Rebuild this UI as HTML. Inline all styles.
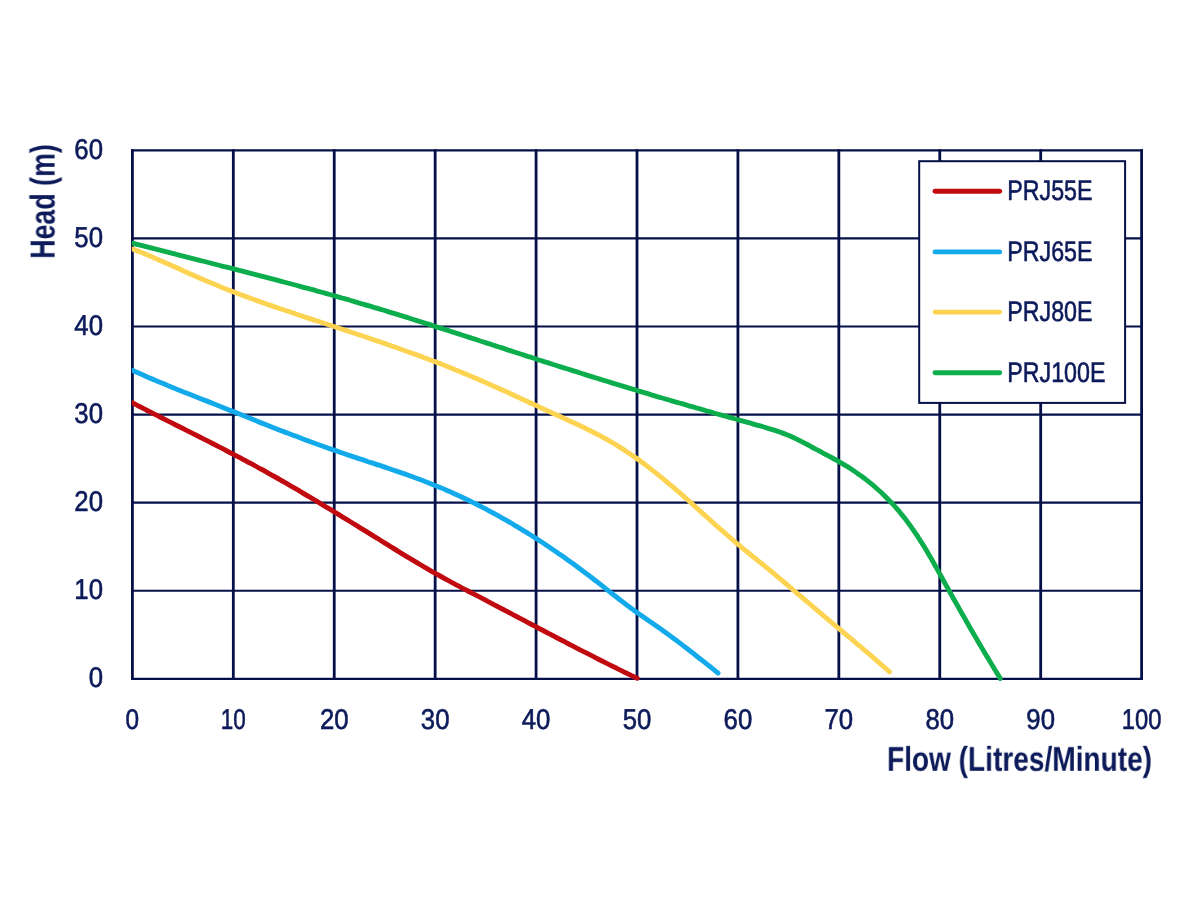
<!DOCTYPE html>
<html><head><meta charset="utf-8"><style>
html,body{margin:0;padding:0;background:#fff;}
body{width:1200px;height:900px;overflow:hidden;}
svg{display:block;}
text{font-family:"Liberation Sans",sans-serif;fill:#0d1b5a;text-rendering:geometricPrecision;}
.r{stroke:#0d1b5a;stroke-width:0.6;}
.b{stroke:#0d1b5a;stroke-width:0.0;}
</style></head><body>
<svg style="will-change:transform" width="1200" height="900" viewBox="0 0 1200 900">
<g stroke="#050f48" stroke-width="2.2"><line x1="131.00" y1="678.80" x2="1143.00" y2="678.80"/><line x1="131.00" y1="590.73" x2="1143.00" y2="590.73"/><line x1="131.00" y1="502.66" x2="1143.00" y2="502.66"/><line x1="131.00" y1="414.59" x2="1143.00" y2="414.59"/><line x1="131.00" y1="326.52" x2="1143.00" y2="326.52"/><line x1="131.00" y1="238.45" x2="1143.00" y2="238.45"/><line x1="131.00" y1="150.38" x2="1143.00" y2="150.38"/></g>
<g stroke="#050f48" stroke-width="2.8"><line x1="132.40" y1="149.28" x2="132.40" y2="679.90"/><line x1="233.32" y1="149.28" x2="233.32" y2="679.90"/><line x1="334.24" y1="149.28" x2="334.24" y2="679.90"/><line x1="435.16" y1="149.28" x2="435.16" y2="679.90"/><line x1="536.08" y1="149.28" x2="536.08" y2="679.90"/><line x1="637.00" y1="149.28" x2="637.00" y2="679.90"/><line x1="737.92" y1="149.28" x2="737.92" y2="679.90"/><line x1="838.84" y1="149.28" x2="838.84" y2="679.90"/><line x1="939.76" y1="149.28" x2="939.76" y2="679.90"/><line x1="1040.68" y1="149.28" x2="1040.68" y2="679.90"/><line x1="1141.60" y1="149.28" x2="1141.60" y2="679.90"/></g>
<clipPath id="pc"><rect x="131.80" y="0" width="1100" height="900"/></clipPath><g clip-path="url(#pc)">
<path d="M132.5,402.8C133.7,403.4 137.2,405.3 139.6,406.5C142.0,407.7 144.4,409.0 146.8,410.2C149.1,411.4 151.5,412.6 153.9,413.9C156.3,415.1 158.7,416.3 161.0,417.5C163.4,418.7 165.8,419.9 168.2,421.1C170.6,422.3 172.9,423.5 175.3,424.7C177.7,425.9 180.1,427.1 182.5,428.3C184.9,429.5 187.2,430.7 189.6,431.9C192.0,433.1 194.4,434.3 196.8,435.5C199.1,436.7 201.5,437.9 203.9,439.1C206.3,440.3 208.6,441.6 211.0,442.8C213.4,444.0 215.8,445.2 218.1,446.4C220.5,447.6 222.9,448.8 225.2,450.0C227.6,451.3 229.9,452.5 232.3,453.7C234.7,455.0 237.0,456.2 239.4,457.4C241.7,458.7 244.1,459.9 246.4,461.2C248.8,462.4 251.1,463.7 253.4,464.9C255.8,466.2 258.1,467.5 260.4,468.8C262.8,470.0 265.1,471.3 267.4,472.6C269.7,473.9 272.1,475.2 274.4,476.5C276.7,477.8 279.0,479.1 281.3,480.5C283.6,481.8 285.9,483.1 288.2,484.4C290.5,485.8 292.8,487.1 295.1,488.4C297.4,489.8 299.7,491.1 302.0,492.5C304.3,493.8 306.6,495.2 308.9,496.6C311.2,497.9 313.5,499.3 315.8,500.6C318.0,502.0 320.3,503.4 322.6,504.8C324.9,506.1 327.2,507.5 329.5,508.9C331.7,510.3 334.0,511.7 336.3,513.1C338.6,514.5 340.8,515.9 343.1,517.3C345.4,518.7 347.7,520.1 350.0,521.5C352.2,522.9 354.5,524.3 356.8,525.7C359.1,527.1 361.3,528.5 363.6,529.9C365.9,531.3 368.2,532.7 370.4,534.1C372.7,535.5 375.0,536.9 377.3,538.3C379.5,539.8 381.8,541.2 384.1,542.6C386.4,544.0 388.7,545.4 391.0,546.8C393.2,548.2 395.5,549.7 397.8,551.1C400.1,552.5 402.4,553.9 404.7,555.3C407.0,556.7 409.2,558.0 411.5,559.4C413.8,560.8 416.1,562.2 418.4,563.5C420.7,564.9 423.0,566.3 425.3,567.6C427.6,568.9 429.9,570.3 432.2,571.6C434.5,572.9 436.9,574.2 439.2,575.5C441.5,576.8 443.8,578.1 446.1,579.3C448.5,580.6 450.8,581.9 453.1,583.1C455.4,584.4 457.8,585.6 460.1,586.8C462.4,588.1 464.8,589.3 467.1,590.5C469.4,591.8 471.8,593.0 474.1,594.2C476.5,595.4 478.8,596.7 481.1,597.9C483.5,599.1 485.8,600.3 488.2,601.6C490.5,602.8 492.9,604.0 495.3,605.3C497.6,606.5 500.0,607.7 502.3,609.0C504.7,610.2 507.0,611.5 509.4,612.7C511.8,614.0 514.1,615.2 516.5,616.5C518.9,617.7 521.2,619.0 523.6,620.2C526.0,621.5 528.3,622.7 530.7,624.0C533.1,625.2 535.4,626.5 537.8,627.7C540.2,629.0 542.6,630.2 544.9,631.5C547.3,632.7 549.7,634.0 552.1,635.2C554.4,636.5 556.8,637.7 559.2,639.0C561.6,640.2 563.9,641.4 566.3,642.7C568.7,643.9 571.1,645.2 573.5,646.4C575.8,647.6 578.2,648.9 580.6,650.1C583.0,651.3 585.4,652.5 587.7,653.7C590.1,655.0 592.5,656.2 594.9,657.4C597.3,658.6 599.6,659.8 602.0,661.0C604.4,662.2 606.8,663.4 609.2,664.6C611.5,665.8 613.9,667.0 616.3,668.1C618.7,669.3 621.1,670.5 623.4,671.7C625.8,672.8 628.3,674.0 630.6,675.1C632.9,676.2 636.1,677.8 637.2,678.3" fill="none" stroke="#c00a0f" stroke-width="4.9" stroke-linecap="round" stroke-linejoin="round"/>
<path d="M132.4,370.2C133.6,370.8 137.3,372.5 139.8,373.6C142.3,374.7 144.8,375.8 147.2,376.9C149.7,377.9 152.2,379.0 154.6,380.0C157.1,381.1 159.6,382.1 162.0,383.1C164.5,384.2 166.9,385.2 169.4,386.2C171.9,387.2 174.3,388.2 176.8,389.2C179.2,390.2 181.7,391.2 184.2,392.2C186.6,393.1 189.1,394.1 191.5,395.1C194.0,396.1 196.4,397.0 198.9,398.0C201.4,399.0 203.8,399.9 206.3,400.9C208.7,401.9 211.2,402.9 213.6,403.8C216.1,404.8 218.6,405.8 221.0,406.7C223.5,407.7 225.9,408.7 228.4,409.7C230.9,410.7 233.3,411.7 235.8,412.6C238.3,413.6 240.7,414.6 243.2,415.6C245.7,416.6 248.1,417.6 250.6,418.6C253.1,419.6 255.6,420.6 258.0,421.6C260.5,422.5 263.0,423.5 265.5,424.5C268.0,425.5 270.4,426.5 272.9,427.5C275.4,428.4 277.9,429.4 280.4,430.4C282.9,431.4 285.4,432.3 287.9,433.3C290.4,434.2 292.9,435.2 295.4,436.1C297.9,437.1 300.4,438.0 302.9,439.0C305.4,439.9 308.0,440.8 310.5,441.7C313.0,442.7 315.5,443.6 318.1,444.5C320.6,445.4 323.1,446.3 325.6,447.2C328.2,448.1 330.7,449.0 333.2,449.9C335.8,450.7 338.3,451.6 340.8,452.5C343.4,453.4 345.9,454.2 348.4,455.1C351.0,455.9 353.5,456.8 356.1,457.6C358.6,458.5 361.1,459.3 363.7,460.2C366.2,461.0 368.7,461.9 371.2,462.7C373.8,463.5 376.3,464.4 378.8,465.2C381.4,466.0 383.9,466.9 386.4,467.7C388.9,468.6 391.4,469.4 393.9,470.3C396.5,471.1 399.0,472.0 401.5,472.9C404.0,473.7 406.5,474.6 409.0,475.5C411.5,476.4 414.0,477.3 416.5,478.2C418.9,479.1 421.4,480.1 423.9,481.0C426.4,481.9 428.8,482.9 431.3,483.9C433.8,484.9 436.2,485.9 438.7,486.9C441.1,487.9 443.6,488.9 446.0,490.0C448.4,491.1 450.9,492.1 453.3,493.2C455.7,494.3 458.1,495.4 460.5,496.5C463.0,497.7 465.4,498.8 467.8,500.0C470.2,501.1 472.5,502.3 474.9,503.5C477.3,504.7 479.7,505.9 482.1,507.1C484.4,508.3 486.8,509.6 489.1,510.8C491.5,512.1 493.8,513.4 496.2,514.6C498.5,515.9 500.8,517.2 503.2,518.6C505.5,519.9 507.8,521.2 510.1,522.5C512.4,523.9 514.7,525.2 517.0,526.6C519.3,528.0 521.6,529.4 523.9,530.8C526.2,532.2 528.4,533.6 530.7,535.0C533.0,536.4 535.2,537.9 537.5,539.3C539.7,540.8 542.0,542.2 544.2,543.7C546.4,545.2 548.7,546.7 550.9,548.2C553.1,549.7 555.3,551.2 557.5,552.7C559.7,554.2 561.9,555.8 564.1,557.3C566.3,558.9 568.4,560.4 570.6,562.0C572.8,563.5 574.9,565.1 577.1,566.7C579.3,568.3 581.4,569.9 583.5,571.5C585.7,573.1 587.8,574.7 589.9,576.3C592.0,577.9 594.2,579.6 596.3,581.2C598.4,582.9 600.5,584.5 602.6,586.1C604.6,587.8 606.7,589.4 608.8,591.1C610.9,592.7 613.0,594.4 615.1,596.0C617.2,597.6 619.3,599.3 621.4,600.9C623.5,602.5 625.6,604.1 627.7,605.7C629.8,607.3 631.9,608.8 634.1,610.4C636.2,611.9 638.4,613.5 640.5,615.0C642.7,616.5 644.8,618.0 647.0,619.5C649.2,621.0 651.4,622.5 653.5,624.0C655.7,625.5 657.9,627.0 660.1,628.6C662.3,630.1 664.4,631.7 666.6,633.2C668.8,634.8 670.9,636.4 673.1,638.0C675.3,639.6 677.4,641.2 679.6,642.9C681.7,644.5 683.9,646.1 686.0,647.8C688.1,649.4 690.3,651.1 692.4,652.7C694.5,654.4 696.6,656.0 698.7,657.7C700.8,659.3 702.9,661.0 705.0,662.6C707.1,664.3 709.1,665.9 711.2,667.5C713.2,669.2 716.1,671.6 717.3,672.5C718.4,673.4 717.9,673.0 718.0,673.1" fill="none" stroke="#12aaeb" stroke-width="4.9" stroke-linecap="round" stroke-linejoin="round"/>
<path d="M132.5,249.0C133.7,249.5 137.3,250.9 139.7,251.8C142.2,252.8 144.6,253.8 147.0,254.8C149.4,255.8 151.8,256.9 154.3,257.9C156.7,259.0 159.1,260.0 161.6,261.1C164.0,262.2 166.5,263.2 168.9,264.3C171.4,265.4 173.8,266.5 176.3,267.6C178.7,268.7 181.2,269.8 183.6,270.9C186.1,272.0 188.6,273.1 191.0,274.2C193.5,275.3 196.0,276.4 198.4,277.5C200.9,278.6 203.4,279.6 205.9,280.7C208.4,281.8 210.8,282.8 213.3,283.8C215.8,284.9 218.3,285.9 220.8,286.9C223.3,287.9 225.8,288.9 228.3,289.9C230.8,290.8 233.3,291.8 235.8,292.8C238.3,293.7 240.8,294.7 243.3,295.6C245.8,296.5 248.3,297.5 250.8,298.4C253.3,299.3 255.8,300.2 258.3,301.1C260.9,302.0 263.4,302.9 265.9,303.8C268.4,304.6 270.9,305.5 273.4,306.4C275.9,307.2 278.5,308.1 281.0,309.0C283.5,309.8 286.0,310.7 288.5,311.5C291.1,312.4 293.6,313.2 296.1,314.0C298.6,314.9 301.1,315.7 303.7,316.6C306.2,317.4 308.7,318.2 311.2,319.1C313.7,319.9 316.3,320.7 318.8,321.5C321.3,322.4 323.8,323.2 326.3,324.0C328.9,324.9 331.4,325.7 333.9,326.5C336.4,327.3 338.9,328.2 341.4,329.0C344.0,329.8 346.5,330.7 349.0,331.5C351.5,332.3 354.0,333.2 356.5,334.0C359.1,334.9 361.6,335.7 364.1,336.5C366.6,337.4 369.1,338.2 371.6,339.1C374.1,339.9 376.6,340.8 379.1,341.6C381.7,342.5 384.2,343.4 386.7,344.2C389.2,345.1 391.7,346.0 394.2,346.8C396.7,347.7 399.2,348.6 401.7,349.5C404.2,350.4 406.7,351.3 409.2,352.2C411.7,353.1 414.2,354.0 416.7,354.9C419.2,355.8 421.7,356.7 424.2,357.7C426.7,358.6 429.2,359.5 431.7,360.5C434.2,361.4 436.7,362.4 439.2,363.3C441.6,364.3 444.1,365.3 446.6,366.2C449.1,367.2 451.6,368.2 454.1,369.2C456.5,370.2 459.0,371.2 461.5,372.2C464.0,373.3 466.5,374.3 468.9,375.3C471.4,376.4 473.9,377.4 476.4,378.5C478.8,379.6 481.3,380.6 483.8,381.7C486.2,382.8 488.7,383.9 491.2,385.0C493.6,386.1 496.1,387.2 498.5,388.3C501.0,389.4 503.4,390.5 505.9,391.6C508.3,392.7 510.8,393.9 513.2,395.0C515.7,396.1 518.1,397.2 520.6,398.4C523.0,399.5 525.5,400.6 527.9,401.7C530.3,402.9 532.8,404.0 535.2,405.1C537.6,406.2 540.1,407.3 542.5,408.5C544.9,409.6 547.3,410.7 549.8,411.8C552.2,412.9 554.6,414.0 557.0,415.1C559.4,416.2 561.8,417.3 564.2,418.4C566.6,419.5 569.0,420.6 571.4,421.7C573.8,422.8 576.2,423.9 578.6,425.0C581.0,426.1 583.3,427.3 585.7,428.4C588.1,429.6 590.4,430.8 592.8,432.0C595.1,433.2 597.5,434.4 599.8,435.6C602.1,436.9 604.4,438.1 606.7,439.4C609.0,440.7 611.3,442.1 613.6,443.4C615.9,444.8 618.2,446.2 620.4,447.6C622.7,449.0 624.9,450.5 627.1,452.0C629.4,453.4 631.6,455.0 633.8,456.5C636.0,458.0 638.2,459.6 640.3,461.1C642.5,462.7 644.7,464.3 646.8,465.9C649.0,467.6 651.1,469.2 653.2,470.9C655.3,472.5 657.4,474.2 659.5,475.9C661.6,477.5 663.7,479.2 665.7,481.0C667.8,482.7 669.8,484.4 671.9,486.1C673.9,487.8 675.9,489.6 678.0,491.3C680.0,493.1 682.0,494.8 684.0,496.6C686.0,498.4 688.0,500.1 690.0,501.9C692.0,503.7 693.9,505.5 695.9,507.3C697.9,509.0 699.9,510.8 701.9,512.6C703.8,514.4 705.8,516.2 707.8,517.9C709.8,519.7 711.7,521.5 713.7,523.3C715.7,525.0 717.7,526.8 719.7,528.6C721.7,530.3 723.7,532.1 725.7,533.8C727.7,535.6 729.7,537.3 731.7,539.0C733.7,540.8 735.8,542.5 737.8,544.2C739.8,545.9 741.9,547.6 744.0,549.3C746.0,551.0 748.1,552.6 750.2,554.3C752.2,556.0 754.3,557.7 756.4,559.3C758.5,561.0 760.5,562.7 762.6,564.3C764.7,566.0 766.7,567.7 768.8,569.4C770.9,571.1 772.9,572.8 775.0,574.5C777.0,576.2 779.1,577.9 781.1,579.7C783.1,581.4 785.2,583.1 787.2,584.8C789.2,586.6 791.3,588.3 793.3,590.0C795.3,591.7 797.3,593.5 799.4,595.2C801.4,596.9 803.4,598.6 805.4,600.4C807.4,602.1 809.5,603.8 811.5,605.5C813.5,607.3 815.5,609.0 817.6,610.7C819.6,612.4 821.6,614.1 823.7,615.8C825.7,617.5 827.7,619.3 829.8,621.0C831.8,622.7 833.9,624.4 835.9,626.1C837.9,627.8 840.0,629.5 842.0,631.2C844.1,632.9 846.1,634.7 848.1,636.4C850.2,638.1 852.2,639.8 854.3,641.5C856.3,643.2 858.3,645.0 860.4,646.7C862.4,648.4 864.4,650.1 866.5,651.8C868.5,653.6 870.5,655.3 872.6,657.0C874.6,658.8 876.6,660.5 878.6,662.3C880.7,664.0 882.9,665.9 884.7,667.5C886.5,669.1 888.8,671.1 889.6,671.8" fill="none" stroke="#fdd352" stroke-width="4.9" stroke-linecap="round" stroke-linejoin="round"/>
<path d="M132.5,243.2C133.5,243.4 136.4,244.2 138.3,244.7C140.3,245.2 142.2,245.7 144.2,246.2C146.1,246.7 148.1,247.2 150.0,247.7C152.0,248.2 153.9,248.7 155.9,249.2C157.8,249.7 159.8,250.2 161.7,250.7C163.7,251.2 165.6,251.7 167.6,252.2C169.5,252.7 171.4,253.2 173.4,253.7C175.3,254.2 177.3,254.6 179.2,255.1C181.2,255.6 183.1,256.1 185.0,256.6C187.0,257.1 188.9,257.6 190.9,258.1C192.8,258.6 194.8,259.1 196.7,259.6C198.6,260.1 200.6,260.5 202.5,261.0C204.4,261.5 206.4,262.0 208.3,262.5C210.3,263.0 212.2,263.5 214.1,264.0C216.1,264.5 218.0,265.0 219.9,265.5C221.9,266.0 223.8,266.5 225.7,266.9C227.7,267.4 229.6,267.9 231.6,268.4C233.5,268.9 235.4,269.4 237.4,269.9C239.3,270.4 241.2,270.9 243.2,271.4C245.1,271.9 247.0,272.4 248.9,272.9C250.9,273.4 252.8,273.9 254.7,274.4C256.7,274.9 258.6,275.4 260.5,275.9C262.5,276.4 264.4,276.9 266.3,277.4C268.2,277.9 270.2,278.4 272.1,278.9C274.0,279.4 276.0,279.9 277.9,280.4C279.8,280.9 281.7,281.4 283.7,282.0C285.6,282.5 287.5,283.0 289.4,283.5C291.4,284.0 293.3,284.5 295.2,285.0C297.1,285.6 299.1,286.1 301.0,286.6C302.9,287.1 304.8,287.6 306.8,288.2C308.7,288.7 310.6,289.2 312.5,289.7C314.4,290.3 316.4,290.8 318.3,291.3C320.2,291.8 322.1,292.4 324.1,292.9C326.0,293.5 327.9,294.0 329.8,294.5C331.7,295.1 333.7,295.6 335.6,296.2C337.5,296.7 339.4,297.2 341.3,297.8C343.3,298.3 345.2,298.9 347.1,299.4C349.0,300.0 350.9,300.5 352.8,301.1C354.8,301.7 356.7,302.2 358.6,302.8C360.5,303.3 362.4,303.9 364.3,304.5C366.3,305.0 368.2,305.6 370.1,306.2C372.0,306.8 373.9,307.3 375.8,307.9C377.8,308.5 379.7,309.1 381.6,309.7C383.5,310.2 385.4,310.8 387.3,311.4C389.2,312.0 391.2,312.6 393.1,313.2C395.0,313.7 396.9,314.3 398.8,314.9C400.7,315.5 402.6,316.1 404.5,316.7C406.5,317.3 408.4,317.9 410.3,318.5C412.2,319.1 414.1,319.7 416.0,320.3C417.9,320.9 419.8,321.5 421.8,322.1C423.7,322.7 425.6,323.3 427.5,323.9C429.4,324.5 431.3,325.1 433.2,325.8C435.1,326.4 437.0,327.0 438.9,327.6C440.9,328.2 442.8,328.8 444.7,329.4C446.6,330.0 448.5,330.6 450.4,331.3C452.3,331.9 454.2,332.5 456.1,333.1C458.0,333.7 459.9,334.3 461.9,335.0C463.8,335.6 465.7,336.2 467.6,336.8C469.5,337.4 471.4,338.0 473.3,338.7C475.2,339.3 477.1,339.9 479.0,340.5C480.9,341.1 482.8,341.8 484.7,342.4C486.6,343.0 488.6,343.6 490.5,344.2C492.4,344.9 494.3,345.5 496.2,346.1C498.1,346.7 500.0,347.3 501.9,347.9C503.8,348.6 505.7,349.2 507.6,349.8C509.5,350.4 511.4,351.0 513.3,351.7C515.2,352.3 517.1,352.9 519.0,353.5C521.0,354.1 522.9,354.7 524.8,355.4C526.7,356.0 528.6,356.6 530.5,357.2C532.4,357.8 534.3,358.4 536.2,359.0C538.1,359.6 540.0,360.3 541.9,360.9C543.8,361.5 545.7,362.1 547.6,362.7C549.5,363.3 551.4,363.9 553.3,364.5C555.2,365.1 557.1,365.7 559.0,366.3C560.9,366.9 562.8,367.5 564.8,368.1C566.7,368.7 568.6,369.3 570.5,369.9C572.4,370.5 574.3,371.1 576.2,371.7C578.1,372.3 580.0,372.9 581.9,373.5C583.8,374.1 585.7,374.7 587.6,375.3C589.5,375.9 591.4,376.5 593.3,377.1C595.2,377.7 597.1,378.3 599.0,378.9C600.9,379.5 602.9,380.1 604.8,380.6C606.7,381.2 608.6,381.8 610.5,382.4C612.4,383.0 614.3,383.6 616.2,384.2C618.1,384.7 620.0,385.3 621.9,385.9C623.8,386.5 625.7,387.1 627.7,387.7C629.6,388.2 631.5,388.8 633.4,389.4C635.3,390.0 637.2,390.5 639.1,391.1C641.0,391.7 642.9,392.3 644.9,392.8C646.8,393.4 648.7,394.0 650.6,394.6C652.5,395.1 654.4,395.7 656.3,396.3C658.3,396.8 660.2,397.4 662.1,398.0C664.0,398.5 665.9,399.1 667.8,399.7C669.8,400.2 671.7,400.8 673.6,401.3C675.5,401.9 677.4,402.5 679.3,403.0C681.3,403.6 683.2,404.1 685.1,404.7C687.0,405.3 689.0,405.8 690.9,406.4C692.8,406.9 694.7,407.5 696.6,408.0C698.6,408.6 700.5,409.1 702.4,409.7C704.3,410.2 706.3,410.8 708.2,411.3C710.1,411.9 712.1,412.4 714.0,413.0C715.9,413.5 717.8,414.0 719.8,414.6C721.7,415.1 723.6,415.7 725.6,416.2C727.5,416.8 729.4,417.3 731.3,417.8C733.3,418.4 735.2,418.9 737.1,419.5C739.0,420.0 741.0,420.5 742.9,421.1C744.8,421.6 746.7,422.2 748.6,422.7C750.6,423.2 752.5,423.8 754.4,424.3C756.3,424.9 758.2,425.4 760.1,425.9C762.0,426.5 763.9,427.0 765.8,427.6C767.7,428.1 769.6,428.7 771.5,429.3C773.4,429.9 775.2,430.5 777.1,431.1C779.0,431.7 780.9,432.4 782.7,433.1C784.6,433.8 786.5,434.6 788.3,435.3C790.2,436.1 792.0,437.0 793.9,437.8C795.7,438.7 797.6,439.6 799.4,440.5C801.2,441.4 803.1,442.3 804.9,443.3C806.7,444.2 808.5,445.2 810.3,446.2C812.1,447.1 813.9,448.1 815.7,449.1C817.5,450.0 819.3,451.0 821.0,451.9C822.8,452.9 824.6,453.8 826.3,454.8C828.1,455.7 829.8,456.6 831.5,457.5C833.3,458.5 835.0,459.4 836.7,460.3C838.4,461.3 840.1,462.3 841.8,463.3C843.5,464.3 845.2,465.3 846.9,466.3C848.6,467.4 850.2,468.4 851.9,469.5C853.5,470.6 855.2,471.7 856.8,472.9C858.4,474.0 860.0,475.1 861.6,476.3C863.2,477.5 864.8,478.7 866.4,479.9C868.0,481.2 869.5,482.4 871.1,483.7C872.6,484.9 874.1,486.2 875.6,487.5C877.1,488.9 878.6,490.2 880.1,491.5C881.6,492.9 883.0,494.3 884.4,495.6C885.9,497.0 887.3,498.5 888.7,499.9C890.1,501.3 891.5,502.8 892.8,504.2C894.2,505.7 895.5,507.2 896.8,508.7C898.1,510.2 899.4,511.7 900.7,513.3C902.0,514.8 903.2,516.4 904.5,517.9C905.7,519.5 906.9,521.1 908.1,522.7C909.3,524.3 910.5,525.9 911.6,527.6C912.8,529.2 913.9,530.9 915.0,532.5C916.1,534.2 917.3,535.8 918.3,537.5C919.4,539.2 920.5,540.9 921.6,542.6C922.7,544.3 923.7,546.0 924.8,547.7C925.8,549.4 926.8,551.2 927.9,552.9C928.9,554.6 929.9,556.4 930.9,558.1C931.9,559.8 932.9,561.6 933.9,563.3C934.9,565.1 935.9,566.8 936.9,568.6C937.8,570.3 938.8,572.1 939.8,573.9C940.8,575.6 941.7,577.4 942.7,579.1C943.7,580.9 944.6,582.6 945.6,584.4C946.6,586.1 947.6,587.9 948.5,589.6C949.5,591.4 950.5,593.1 951.4,594.8C952.4,596.6 953.4,598.3 954.3,600.0C955.3,601.8 956.3,603.5 957.3,605.2C958.2,607.0 959.2,608.7 960.2,610.4C961.2,612.1 962.2,613.9 963.1,615.6C964.1,617.3 965.1,619.0 966.1,620.8C967.1,622.5 968.1,624.2 969.0,625.9C970.0,627.6 971.0,629.4 972.0,631.1C973.0,632.8 974.0,634.5 975.0,636.2C976.0,637.9 977.0,639.7 978.0,641.4C979.0,643.1 980.0,644.8 981.0,646.5C982.1,648.3 983.1,650.0 984.1,651.7C985.1,653.4 986.1,655.1 987.2,656.8C988.2,658.6 989.2,660.3 990.3,662.0C991.3,663.7 992.3,665.5 993.4,667.2C994.4,668.9 995.5,670.6 996.5,672.4C997.6,674.1 999.1,676.5 999.7,677.5C1000.3,678.6 1000.1,678.3 1000.2,678.4" fill="none" stroke="#0cad4c" stroke-width="4.9" stroke-linecap="round" stroke-linejoin="round"/>
</g>
<rect x="919.2" y="161.2" width="205.9" height="241.7" fill="#fff" stroke="#050f48" stroke-width="2"/>
<line x1="935" y1="191.3" x2="999.7" y2="191.3" stroke="#c00a0f" stroke-width="4.9" stroke-linecap="round"/>
<text class="r" transform="translate(1007.30,200.14) scale(0.821,1)" font-size="28.30">PRJ55E</text>
<line x1="935" y1="251.9" x2="999.7" y2="251.9" stroke="#12aaeb" stroke-width="4.9" stroke-linecap="round"/>
<text class="r" transform="translate(1007.30,260.74) scale(0.821,1)" font-size="28.30">PRJ65E</text>
<line x1="935" y1="312.1" x2="999.7" y2="312.1" stroke="#fdd352" stroke-width="4.9" stroke-linecap="round"/>
<text class="r" transform="translate(1007.30,320.94) scale(0.821,1)" font-size="28.30">PRJ80E</text>
<line x1="935" y1="372.7" x2="999.7" y2="372.7" stroke="#0cad4c" stroke-width="4.9" stroke-linecap="round"/>
<text class="r" transform="translate(1007.30,381.54) scale(0.821,1)" font-size="28.30">PRJ100E</text>
<text class="r" text-anchor="end" transform="translate(103.00,687.17) scale(0.900,1)" font-size="28.60">0</text>
<text class="r" text-anchor="end" transform="translate(103.00,599.10) scale(0.900,1)" font-size="28.60">10</text>
<text class="r" text-anchor="end" transform="translate(103.00,511.03) scale(0.900,1)" font-size="28.60">20</text>
<text class="r" text-anchor="end" transform="translate(103.00,422.96) scale(0.900,1)" font-size="28.60">30</text>
<text class="r" text-anchor="end" transform="translate(103.00,334.89) scale(0.900,1)" font-size="28.60">40</text>
<text class="r" text-anchor="end" transform="translate(103.00,246.82) scale(0.900,1)" font-size="28.60">50</text>
<text class="r" text-anchor="end" transform="translate(103.00,158.75) scale(0.900,1)" font-size="28.60">60</text>
<text class="r" text-anchor="middle" transform="translate(132.40,728.90) scale(0.853,1)" font-size="28.60">0</text>
<text class="r" text-anchor="middle" transform="translate(233.32,728.90) scale(0.787,1)" font-size="28.60">10</text>
<text class="r" text-anchor="middle" transform="translate(334.24,728.90) scale(0.900,1)" font-size="28.60">20</text>
<text class="r" text-anchor="middle" transform="translate(435.16,728.90) scale(0.900,1)" font-size="28.60">30</text>
<text class="r" text-anchor="middle" transform="translate(536.08,728.90) scale(0.900,1)" font-size="28.60">40</text>
<text class="r" text-anchor="middle" transform="translate(637.00,728.90) scale(0.900,1)" font-size="28.60">50</text>
<text class="r" text-anchor="middle" transform="translate(737.92,728.90) scale(0.900,1)" font-size="28.60">60</text>
<text class="r" text-anchor="middle" transform="translate(838.84,728.90) scale(0.900,1)" font-size="28.60">70</text>
<text class="r" text-anchor="middle" transform="translate(939.76,728.90) scale(0.900,1)" font-size="28.60">80</text>
<text class="r" text-anchor="middle" transform="translate(1040.68,728.90) scale(0.900,1)" font-size="28.60">90</text>
<text class="r" text-anchor="middle" transform="translate(1141.60,728.90) scale(0.831,1)" font-size="28.60">100</text>
<text class="b" font-weight="bold" transform="translate(887.00,770.80) scale(0.816,1)" font-size="34.40">Flow (Litres/Minute)</text>
<text class="b" font-weight="bold" transform="translate(54.60,258.80) rotate(-90) scale(0.767,1)" font-size="34.90">Head (m)</text>
</svg>
</body></html>
